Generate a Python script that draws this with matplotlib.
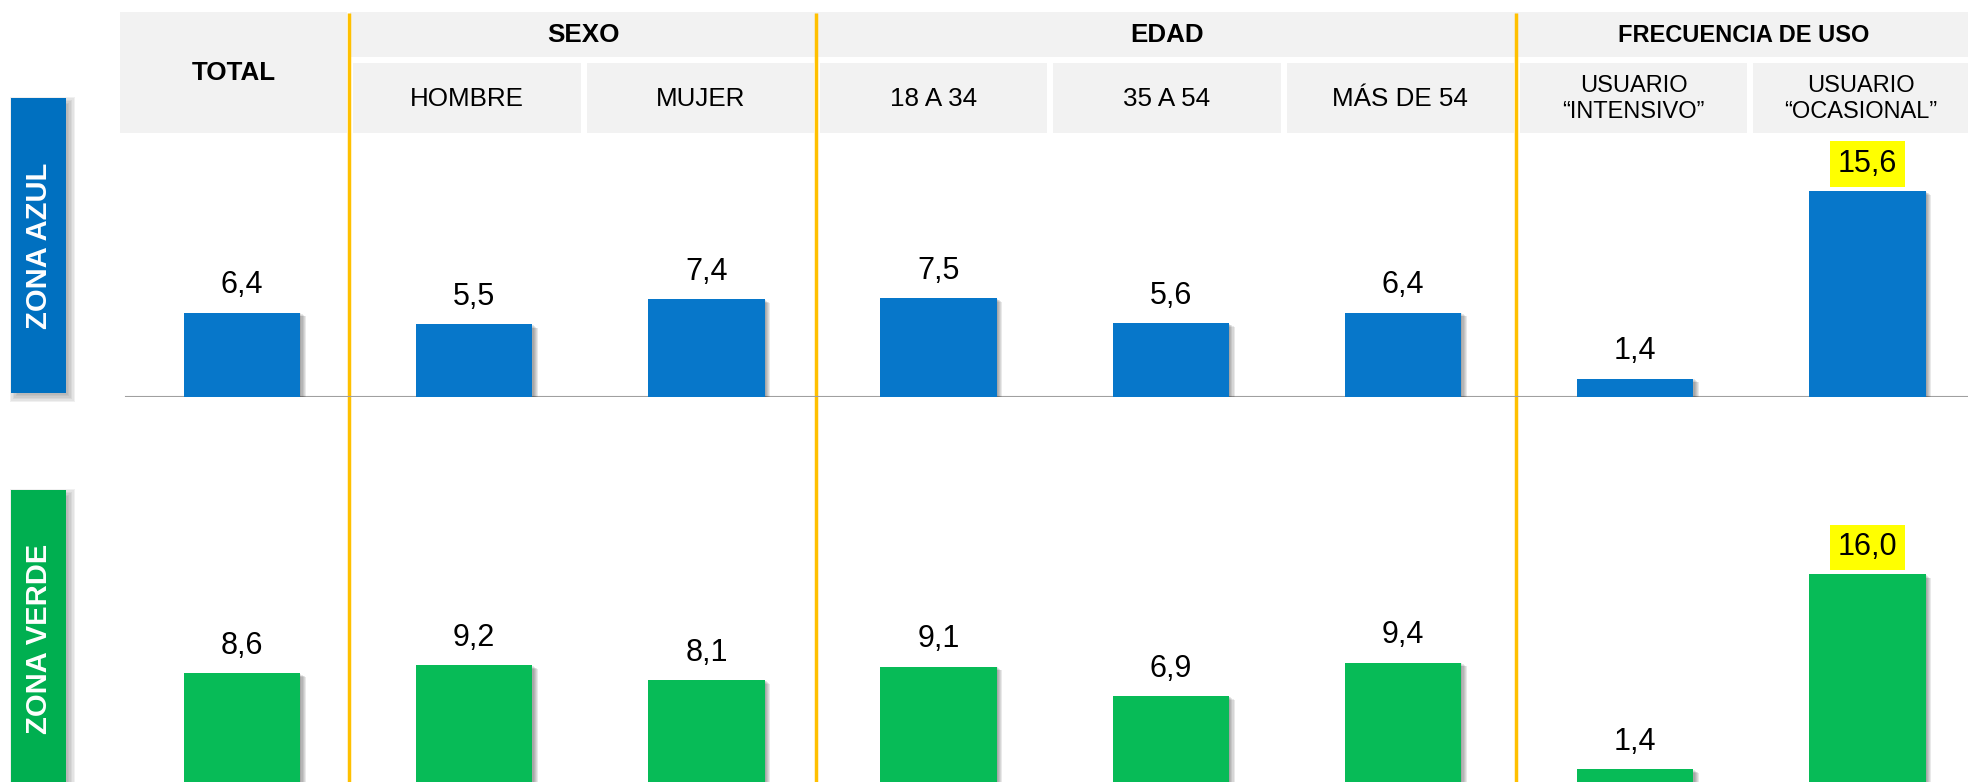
import matplotlib
matplotlib.use("Agg")
import matplotlib.pyplot as plt
from matplotlib.patches import Rectangle
import matplotlib.patheffects as pe

# ---------------- data ----------------
categories = ["TOTAL", "HOMBRE", "MUJER", "18 A 34", "35 A 54", "MÁS DE 54",
              "USUARIO\n“INTENSIVO”", "USUARIO\n“OCASIONAL”"]
groups = ["SEXO", "EDAD", "FRECUENCIA DE USO"]
group_members = [[1, 2], [3, 4, 5], [6, 7]]
zones = ["ZONA AZUL", "ZONA VERDE"]
zona_azul = [6.4, 5.5, 7.4, 7.5, 5.6, 6.4, 1.4, 15.6]
zona_verde = [8.6, 9.2, 8.1, 9.1, 6.9, 9.4, 1.4, 16.0]
highlight = [False, False, False, False, False, False, False, True]

# ---------------- style ----------------
plt.rcParams["font.family"] = ["Liberation Sans", "DejaVu Sans"]
BLUE_BAR = "#0777CA"
GREEN_BAR = "#07BB57"
BLUE_TAB = "#0070C0"
GREEN_TAB = "#00AF50"
HEAD_GRAY = "#F2F2F2"
GOLD = "#FFC000"

W, H = 1968, 782
fig = plt.figure(figsize=(W / 100, H / 100), dpi=100)

# background / header axes in pixel coordinates
ax_bg = fig.add_axes([0, 0, 1, 1])
ax_bg.set_xlim(0, W)
ax_bg.set_ylim(H, 0)
ax_bg.axis("off")


def soft_shadow(ax, x0, y0, x1, y1, dx=4, dy=4, r=5, n=8, a=0.09, color="#606060"):
    for j in range(n):
        e = -r + 2 * r * j / (n - 1)
        ax.add_patch(Rectangle((x0 + dx - e, y0 + dy - e), (x1 - x0) + 2 * e,
                               (y1 - y0) + 2 * e, facecolor=color, edgecolor="none",
                               alpha=a, zorder=1))


# header cell layout (pixels)
b0, step, gap = 117.0, 233.3, 3.0
row1 = (12, 57)
row2 = (63, 133)


def cell(k0, k1):
    return b0 + step * k0 + gap, min(b0 + step * (k1 + 1) - gap, W)


# TOTAL spans both rows
x0, x1 = cell(0, 0)
ax_bg.add_patch(Rectangle((x0, row1[0]), x1 - x0, row2[1] - row1[0],
                          facecolor=HEAD_GRAY, edgecolor="none", zorder=2))
ax_bg.text((x0 + x1) / 2, (row1[0] + row2[1]) / 2, categories[0], ha="center",
           va="center", fontsize=18.7, fontweight="bold", zorder=3)

for g, members in zip(groups, group_members):
    x0, x1 = cell(members[0], members[-1])
    ax_bg.add_patch(Rectangle((x0 - gap, row1[0]), x1 - x0 + 2 * gap, row1[1] - row1[0],
                              facecolor=HEAD_GRAY, edgecolor="none", zorder=2))
    fs = 17 if len(g) > 10 else 18.7
    ax_bg.text((x0 + x1) / 2, (row1[0] + row1[1]) / 2 + 1, g, ha="center", va="center",
               fontsize=fs, fontweight="bold", zorder=3)
    for m in members:
        c0, c1 = cell(m, m)
        ax_bg.add_patch(Rectangle((c0, row2[0]), c1 - c0, row2[1] - row2[0],
                                  facecolor=HEAD_GRAY, edgecolor="none", zorder=2))
        lab = categories[m]
        fs = 17 if "\n" in lab else 18.7
        ax_bg.text((c0 + c1) / 2, (row2[0] + row2[1]) / 2 + 1, lab, ha="center",
                   va="center", fontsize=fs, linespacing=1.2, zorder=3)

# gold separators
for k in (1, 3, 6):
    xl = b0 + step * k - 1
    ax_bg.plot([xl, xl], [13, H], color=GOLD, lw=2.5, solid_capstyle="butt", zorder=4)

# side tabs
tabs = [(zones[0], BLUE_TAB, 98, 393), (zones[1], GREEN_TAB, 490, 787)]
for name, col, t0, t1 in tabs:
    soft_shadow(ax_bg, 11, t0, 66, t1, dx=4, dy=4, r=5)
    ax_bg.add_patch(Rectangle((11, t0), 55, t1 - t0, facecolor=col, edgecolor="none",
                              zorder=2))
    ax_bg.text(39, (t0 + t1) / 2, name, rotation=90, ha="center", va="center",
               color="white", fontsize=21, fontweight="bold", zorder=3)

# ---------------- bar axes ----------------
xc0, xstep = 242.0, 232.2
xlim = (-xc0 / xstep, (W - xc0) / xstep)

base_top, scale_top = 397, 13.2
base_bot, scale_bot = 788, 13.35

ax_top = fig.add_axes([0, (H - base_top) / H, 1, base_top / H])
ax_top.set_xlim(*xlim)
ax_top.set_ylim(0, base_top / scale_top)
ax_top.axis("off")
ax_top.patch.set_alpha(0)

ax_bot = fig.add_axes([0, (H - base_bot) / H, 1, (base_bot - 400) / H])
ax_bot.set_xlim(*xlim)
ax_bot.set_ylim(0, (base_bot - 400) / scale_bot)
ax_bot.axis("off")
ax_bot.patch.set_alpha(0)

shadow = [pe.SimplePatchShadow(offset=(o, -o * 0.7), shadow_rgbFace="#303030", alpha=0.1)
          for o in (0.8, 1.6, 2.4, 3.2, 4.0)] + [pe.Normal()]

x = list(range(len(categories)))
ax_top.plot([-0.5, xlim[1]], [0, 0], color="#A0A0A0", lw=1.5, zorder=1)

for ax, vals, col in ((ax_top, zona_azul, BLUE_BAR), (ax_bot, zona_verde, GREEN_BAR)):
    ax.bar(x, vals, width=0.502, color=col, edgecolor="none", zorder=2,
           path_effects=shadow)
    for i, v in zip(x, vals):
        txt = f"{v:.1f}".replace(".", ",")
        kw = {}
        if highlight[i]:
            kw["bbox"] = dict(boxstyle="square,pad=0.25", facecolor="#FFFF00",
                              edgecolor="none")
        ax.annotate(txt, xy=(i, v), xytext=(0, 13.7), textcoords="offset points",
                    ha="center", va="baseline", fontsize=22, zorder=5,
                    annotation_clip=False, **kw)

fig.savefig("out.png", dpi=100)
